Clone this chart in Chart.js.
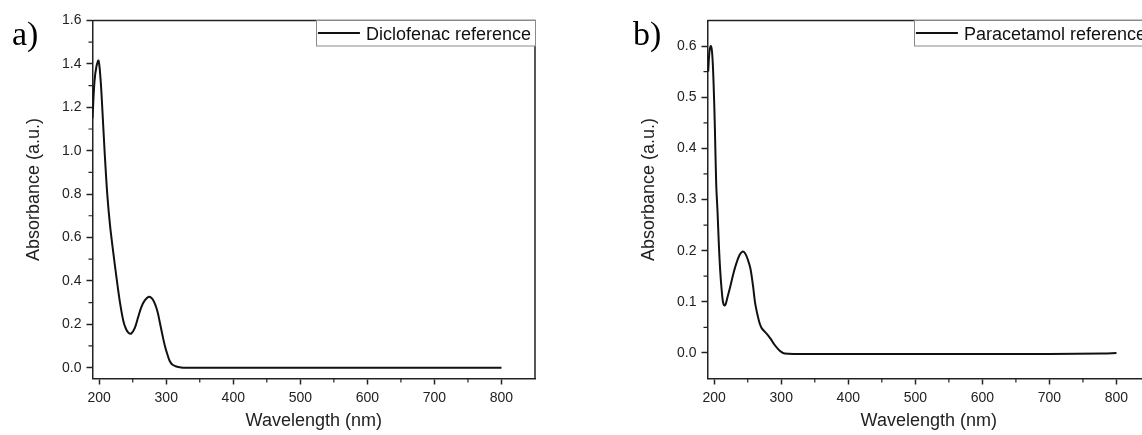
<!DOCTYPE html>
<html>
<head>
<meta charset="utf-8">
<title>UV-Vis reference spectra</title>
<script src="https://cdn.jsdelivr.net/npm/chart.js@4.4.1/dist/chart.umd.min.js"></script>
<style>
  body { margin: 0; width: 1142px; height: 435px; overflow: hidden; background: #fff; position: relative; }
  .panel { position: absolute; top: 0; width: 571px; height: 435px; }
</style>
</head>
<body>
<div class="panel" style="left:0"><canvas id="chartA"></canvas></div>
<div class="panel" style="left:615px"><canvas id="chartB"></canvas></div>
<script>
// Spectra
const diclofenacWavelength = [190, 193, 196, 199, 202, 204, 208, 212, 216, 221, 226, 231, 236, 240, 244, 248, 253, 258, 263, 268,
  274, 279, 283, 287, 290, 294, 298, 302, 305, 309, 315, 322, 330, 345, 400, 500, 600, 700, 800];
const diclofenacAbsorbance = [1.15, 1.32, 1.39, 1.415, 1.33, 1.23, 1.00, 0.80, 0.66, 0.53, 0.41, 0.30, 0.215, 0.178, 0.16, 0.158, 0.182, 0.232, 0.28, 0.31,
  0.327, 0.318, 0.295, 0.258, 0.215, 0.155, 0.10, 0.058, 0.032, 0.014, 0.005, 0.001, 0, 0, 0, 0, 0, 0, 0];

const paracetamolWavelength = [191, 193, 195, 197, 199, 201, 203, 205, 207, 209, 211, 213, 215, 217, 220, 224, 228, 233, 238, 242,
  246, 250, 254, 258, 261, 265, 268, 271, 275, 280, 285, 290, 295, 300, 305, 320, 400, 500, 600, 700, 780, 800];
const paracetamolAbsorbance = [0.55, 0.59, 0.60, 0.585, 0.53, 0.44, 0.33, 0.275, 0.21, 0.16, 0.125, 0.10, 0.093, 0.095, 0.11, 0.13, 0.152, 0.175, 0.192, 0.198,
  0.195, 0.183, 0.165, 0.13, 0.098, 0.072, 0.057, 0.048, 0.042, 0.035, 0.026, 0.016, 0.008, 0.002, -0.001, -0.002, -0.002, -0.002, -0.002, -0.002, -0.001, 0.0];

// Tick labels
const xMajorTicks = [200, 300, 400, 500, 600, 700, 800];
const xMinorTicks = [250, 350, 450, 550, 650, 750];
const yMajorTicksA = [0, 0.2, 0.4, 0.6, 0.8, 1.0, 1.2, 1.4, 1.6];
const yMinorTicksA = [0.1, 0.3, 0.5, 0.7, 0.9, 1.1, 1.3, 1.5];
const yMajorTicksB = [0, 0.1, 0.2, 0.3, 0.4, 0.5, 0.6];
const yMinorTicksB = [0.05, 0.15, 0.25, 0.35, 0.45, 0.55];

const SANS = "'Liberation Sans', Arial, sans-serif";
const SERIF = "'Liberation Serif', 'Times New Roman', serif";
const AXIS = '#222';

Chart.defaults.font.family = SANS;
Chart.defaults.color = AXIS;

// Frame, minor ticks, y title, boxed legend and panel letter
const framePlugin = {
  id: 'frame',
  afterDraw(chart, args, opts) {
    const ctx = chart.ctx;
    const area = chart.chartArea;
    const xs = chart.scales.x;
    const ys = chart.scales.y;
    ctx.save();

    ctx.strokeStyle = AXIS;
    ctx.lineWidth = 1.5;
    ctx.beginPath();
    ctx.moveTo(area.left, area.top);
    ctx.lineTo(area.right, area.top);
    ctx.lineTo(area.right, area.bottom);
    ctx.stroke();

    ctx.lineWidth = 1.2;
    ctx.beginPath();
    opts.xMinor.forEach(v => {
      const px = xs.getPixelForValue(v);
      ctx.moveTo(px, area.bottom);
      ctx.lineTo(px, area.bottom + 4);
    });
    opts.yMinor.forEach(v => {
      const py = ys.getPixelForValue(v);
      ctx.moveTo(area.left, py);
      ctx.lineTo(area.left - 4, py);
    });
    ctx.stroke();

    // y axis title, sits a little above the middle like the original
    ctx.save();
    ctx.translate(34, (area.top + area.bottom) / 2 - 10);
    ctx.rotate(-Math.PI / 2);
    ctx.font = '18px ' + SANS;
    ctx.fillStyle = AXIS;
    ctx.textAlign = 'center';
    ctx.textBaseline = 'middle';
    ctx.fillText(opts.yTitle, 0, 0);
    ctx.restore();

    // legend
    const ds = chart.data.datasets[0];
    ctx.font = '18px ' + SANS;
    const tw = ctx.measureText(ds.label).width;
    const textX = area.right - 4 - tw;
    const lineEnd = textX - 6;
    const lineStart = lineEnd - 42;
    const boxLeft = lineStart - 2;
    const boxTop = area.top;
    ctx.fillStyle = '#fff';
    ctx.fillRect(boxLeft, boxTop, area.right - boxLeft, 25.5);
    ctx.strokeStyle = '#8a8a8a';
    ctx.lineWidth = 1;
    ctx.strokeRect(Math.round(boxLeft) + 0.5, boxTop, area.right - Math.round(boxLeft), 25.5);
    ctx.strokeStyle = ds.borderColor;
    ctx.lineWidth = 2;
    ctx.beginPath();
    ctx.moveTo(lineStart, boxTop + 12.5);
    ctx.lineTo(lineEnd, boxTop + 12.5);
    ctx.stroke();
    ctx.fillStyle = '#111';
    ctx.textAlign = 'left';
    ctx.textBaseline = 'alphabetic';
    ctx.fillText(ds.label, textX, boxTop + 19);

    // panel letter
    ctx.font = '34px ' + SERIF;
    ctx.fillStyle = '#000';
    ctx.fillText(opts.letter, opts.letterX, 45);
    ctx.restore();
  }
};

function makeChart(id, label, wl, absorb, yMin, yMax, yMajor, yMinor, letter, letterX) {
  const ctx = document.getElementById(id).getContext('2d');
  return new Chart(ctx, {
    type: 'line',
    data: {
      datasets: [{
        label: label,
        data: wl.map((w, i) => ({ x: w, y: absorb[i] })),
        borderColor: '#111',
        borderWidth: 2,
        pointRadius: 0,
        fill: false,
        tension: 0.35
      }]
    },
    options: {
      responsive: true,
      maintainAspectRatio: false,
      animation: false,
      layout: { padding: { top: 20.5, right: 36, left: 0, bottom: 0 } },
      scales: {
        x: {
          type: 'linear',
          min: 190,
          max: 850,
          afterBuildTicks: s => { s.ticks = xMajorTicks.map(v => ({ value: v })); },
          afterFit: s => { s.height = 56.5; },
          ticks: { font: { size: 14 }, padding: 5, color: AXIS, maxRotation: 0 },
          grid: { drawOnChartArea: false, drawTicks: true, tickLength: 6, tickColor: AXIS, tickWidth: 1.5 },
          border: { color: AXIS, width: 1.5 },
          title: { display: true, text: 'Wavelength (nm)', font: { size: 18 }, color: AXIS, padding: { top: 0, bottom: 3 } }
        },
        y: {
          type: 'linear',
          min: yMin,
          max: yMax,
          afterBuildTicks: s => { s.ticks = yMajor.map(v => ({ value: v })); },
          afterFit: s => { s.width = 92.5; },
          ticks: { font: { size: 14 }, padding: 5, color: AXIS, callback: v => v.toFixed(1) },
          grid: { drawOnChartArea: false, drawTicks: true, tickLength: 6, tickColor: AXIS, tickWidth: 1.5 },
          border: { color: AXIS, width: 1.5 }
        }
      },
      plugins: {
        legend: { display: false },
        tooltip: { enabled: false },
        frame: { xMinor: xMinorTicks, yMinor: yMinor, letter: letter, letterX: letterX, yTitle: 'Absorbance (a.u.)' }
      }
    },
    plugins: [framePlugin]
  });
}

makeChart('chartA', 'Diclofenac reference', diclofenacWavelength, diclofenacAbsorbance,
  -0.05, 1.6, yMajorTicksA, yMinorTicksA, 'a)', 12);
makeChart('chartB', 'Paracetamol reference', paracetamolWavelength, paracetamolAbsorbance,
  -0.05, 0.65, yMajorTicksB, yMinorTicksB, 'b)', 18);
</script>
</body>
</html>
